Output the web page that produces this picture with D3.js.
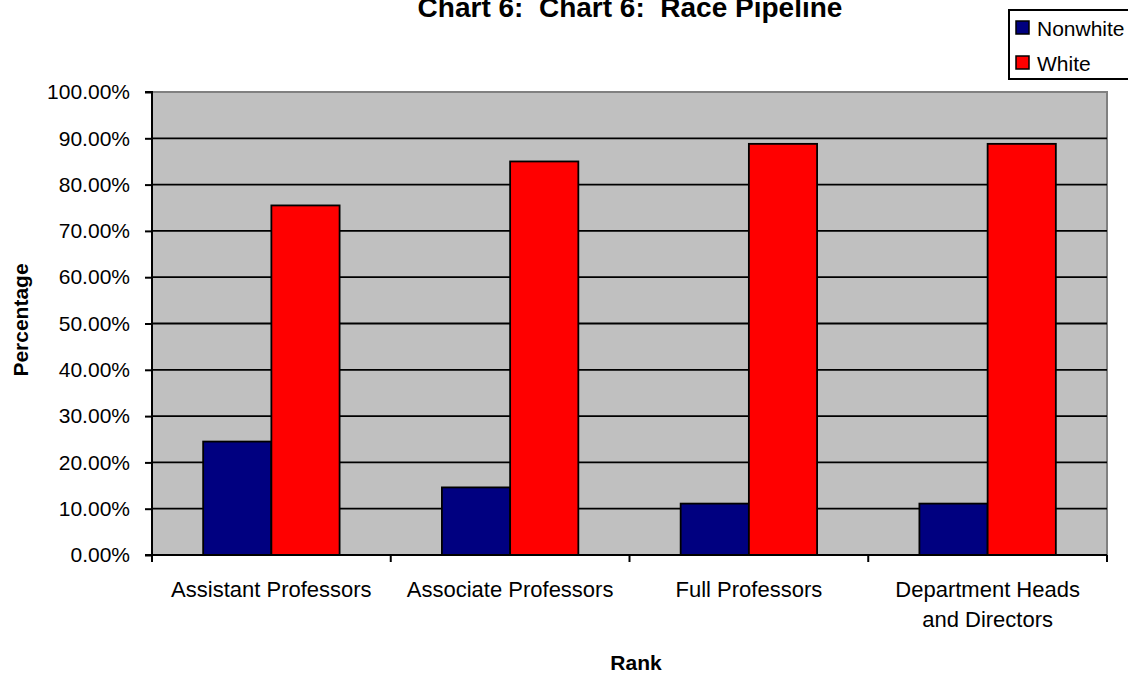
<!DOCTYPE html>
<html>
<head>
<meta charset="utf-8">
<script src="https://cdn.jsdelivr.net/npm/d3@7"></script>
<style>
  html, body { margin: 0; padding: 0; background: #fff; }
  svg { display: block; font-family: "Liberation Sans", Arial, sans-serif; }
</style>
</head>
<body>
<svg id="chart" width="1128" height="675"></svg>
<script>
const categories = ["Assistant Professors", "Associate Professors", "Full Professors", "Department Heads and Directors"];
const categoryLines = [["Assistant Professors"], ["Associate Professors"], ["Full Professors"], ["Department Heads", "and Directors"]];
const seriesNames = ["Nonwhite", "White"];
const nonwhite = [24.5, 14.6, 11.1, 11.1];
const white = [75.5, 85.0, 88.8, 88.8];
const yTicks = [0, 10, 20, 30, 40, 50, 60, 70, 80, 90, 100];
const colors = ["#000080", "#FF0000"];

const svg = d3.select("#chart");
const pL = 152, pR = 1107, pT = 92, pB = 555;

const x = d3.scaleBand().domain(categories).range([pL, pR]).paddingInner(0).paddingOuter(0);
const bw = x.bandwidth() / 3.5;
const xs = d3.scaleBand().domain(seriesNames).range([0, 2 * bw]);
const y = d3.scaleLinear().domain([0, 100]).range([pB, pT]);

// plot background
svg.append("rect").attr("x", pL).attr("y", pT).attr("width", pR - pL).attr("height", pB - pT)
  .attr("fill", "#C0C0C0");
// border top/right gray
svg.append("path").attr("d", `M${pL},${pT}H${pR}V${pB}`).attr("fill", "none")
  .attr("stroke", "#808080").attr("stroke-width", 2);

// gridlines
svg.append("g").selectAll("line").data(yTicks.filter(d => d > 0 && d < 100)).join("line")
  .attr("x1", pL).attr("x2", pR).attr("y1", d => y(d)).attr("y2", d => y(d))
  .attr("stroke", "#000").attr("stroke-width", 1.8);

// bars
const data = categories.map((c, i) => ({c, vals: [nonwhite[i], white[i]]}));
const g = svg.append("g");
data.forEach(d => {
  d.vals.forEach((v, j) => {
    g.append("rect")
      .attr("x", x(d.c) + bw * 0.75 + xs(seriesNames[j]))
      .attr("y", y(v))
      .attr("width", bw)
      .attr("height", y(0) - y(v))
      .attr("fill", colors[j])
      .attr("stroke", "#000").attr("stroke-width", 1.8);
  });
});

// y axis
const yAxis = d3.axisLeft(y).tickValues(yTicks).tickSize(7).tickFormat(d => d.toFixed(2) + "%");
const ya = svg.append("g").attr("transform", `translate(${pL},0)`).call(yAxis);
ya.select(".domain").attr("stroke", "#000").attr("stroke-width", 2).attr("d", `M-7,${pT}H0V${pB}H-7`);
ya.selectAll(".tick line").attr("stroke", "#000").attr("stroke-width", 2);
ya.selectAll(".tick text").attr("font-size", 21).attr("fill", "#000").attr("x", -22)
  .attr("font-family", "Liberation Sans, Arial, sans-serif");

// x axis
const xa = svg.append("g").attr("transform", `translate(0,${pB})`);
xa.append("line").attr("x1", pL).attr("x2", pR).attr("y1", 0).attr("y2", 0)
  .attr("stroke", "#000").attr("stroke-width", 2);
const boundaries = categories.map(c => x(c)).concat([pR]);
xa.selectAll("line.tk").data(boundaries).join("line").attr("class", "tk")
  .attr("x1", d => d).attr("x2", d => d).attr("y1", 0).attr("y2", 7)
  .attr("stroke", "#000").attr("stroke-width", 2);
categories.forEach((c, i) => {
  const t = xa.append("text").attr("text-anchor", "middle").attr("font-size", 22).attr("fill", "#000");
  categoryLines[i].forEach((ln, k) => {
    t.append("tspan").attr("x", x(c) + x.bandwidth() / 2).attr("y", 42 + k * 30).text(ln);
  });
});

// titles
svg.append("text").attr("x", 630).attr("y", 17).attr("text-anchor", "middle")
  .attr("font-size", 28).attr("font-weight", "bold").style("white-space", "pre")
  .text("Chart 6:  Chart 6:  Race Pipeline");
svg.append("text").attr("x", 636).attr("y", 670).attr("text-anchor", "middle")
  .attr("font-size", 21).attr("font-weight", "bold").text("Rank");
svg.append("text").attr("transform", "translate(28,320) rotate(-90)").attr("text-anchor", "middle")
  .attr("font-size", 21).attr("font-weight", "bold").text("Percentage");

// legend
const lg = svg.append("g");
lg.append("rect").attr("x", 1009).attr("y", 10).attr("width", 130).attr("height", 69)
  .attr("fill", "#fff").attr("stroke", "#000").attr("stroke-width", 2);
seriesNames.forEach((s, i) => {
  lg.append("rect").attr("x", 1016).attr("y", 21 + i * 35).attr("width", 13).attr("height", 13)
    .attr("fill", colors[i]).attr("stroke", "#000").attr("stroke-width", 1.5);
  lg.append("text").attr("x", 1037).attr("y", 36 + i * 35).attr("font-size", 21).attr("fill", "#000").text(s);
});
</script>
</body>
</html>
